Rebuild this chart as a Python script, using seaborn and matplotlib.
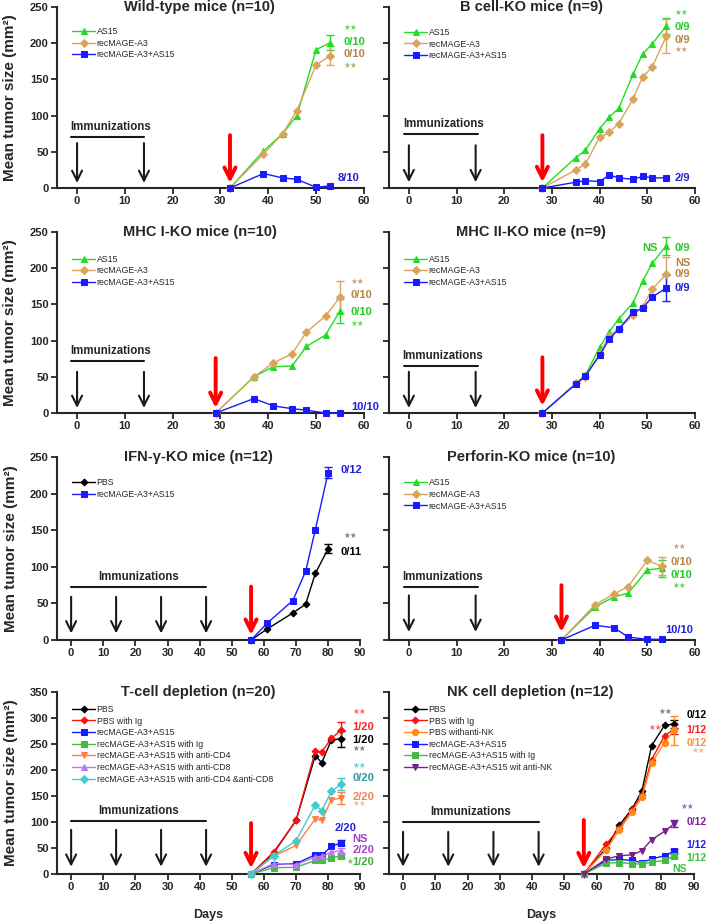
import matplotlib
matplotlib.use("Agg")
import matplotlib.pyplot as plt
import seaborn as sns

# ---- values (mean tumor size, mm2) ----
# Wild-type mice
wt_days = [32, 39, 43, 46, 50, 53]
wt_as15 = [0, 51, 75, 100, 191, 201]
wt_mage = [0, 47, 75, 107, 170, 183]
wt_combo = [0, 20, 14, 12, 1, 3]
wt_sem = [10, 13, 0]
wt_notes = ["**", "0/10", "0/10", "**", "8/10"]
wt_note_y = [220, 202, 185, 168, 14]

# B cell-KO mice
bko_days = [28, 35, 37, 40, 42, 44, 47, 49, 51, 54]
bko_as15 = [0, 42, 52, 82, 98, 110, 157, 185, 199, 224]
bko_mage = [0, 25, 33, 70, 77, 89, 123, 153, 167, 210]
bko_combo = [0, 8, 10, 9, 18, 14, 12, 16, 14, 14]
bko_sem = [11, 24, 0]
bko_notes = ["**", "0/9", "0/9", "**", "2/9"]
bko_note_y = [241, 223, 205, 190, 14]

# MHC I-KO mice
mhc1_days = [29, 37, 41, 45, 48, 52, 55]
mhc1_as15 = [0, 50, 64, 65, 92, 108, 141]
mhc1_mage = [0, 50, 69, 82, 112, 134, 160]
mhc1_combo = [0, 20, 10, 6, 4, 0, 0]
mhc1_sem = [16, 22, 0]
mhc1_notes = ["**", "0/10", "0/10", "**", "10/10"]
mhc1_note_y = [180, 163, 140, 123, 9]

# MHC II-KO mice
mhc2_days = [28, 35, 37, 40, 42, 44, 47, 49, 51, 54]
mhc2_as15 = [0, 41, 52, 91, 112, 130, 152, 182, 207, 231]
mhc2_mage = [0, 41, 50, 82, 107, 116, 135, 146, 171, 192]
mhc2_combo = [0, 40, 51, 80, 102, 116, 139, 145, 160, 173]
mhc2_sem = [12, 24, 18]
mhc2_notes = ["0/9", "NS", "0/9", "0/9"]
mhc2_note_y = [228, 208, 192, 173]

# IFN-gamma-KO mice
ifn_days = [56, 61, 69, 73, 76, 80]
ifn_pbs = [0, 15, 37, 49, 91, 125]
ifn_combo = [0, 23, 54, 94, 151, 229]
ifn_sem = [6, 7]
ifn_notes = ["0/12", "**", "0/11"]
ifn_note_y = [232, 141, 120]

# Perforin-KO mice
perf_days = [32, 39, 43, 46, 50, 53]
perf_as15 = [0, 45, 59, 64, 96, 98]
perf_mage = [0, 48, 63, 73, 109, 101]
perf_combo = [0, 20, 17, 4, 1, 1]
perf_sem = [12, 12, 0]
perf_notes = ["**", "0/10", "0/10", "**", "10/10"]
perf_note_y = [126, 107, 89, 73, 14]

# T-cell depletion
tc_days = [56, 63, 70, 76, 78, 81, 84]
tc_pbs = [0, 40, 103, 228, 214, 258, 260]
tc_pbs_ig = [0, 42, 103, 237, 235, 261, 277]
tc_combo = [0, 18, 20, 37, 36, 53, 60]
tc_combo_ig = [0, 12, 13, 26, 26, 31, 35]
tc_cd4 = [0, 34, 55, 106, 103, 143, 146]
tc_cd8 = [0, 20, 18, 33, 34, 42, 45]
tc_cd48 = [0, 35, 64, 133, 122, 159, 173]
tc_sem = [15, 15, 5, 4, 12, 5, 12]
tc_notes = ["**", "1/20", "1/20", "**", "**", "0/20", "2/20", "**", "NS", "2/20", "1/20"]
tc_note_y = [310, 283, 258, 240, 206, 185, 148, 133, 68, 46, 23]

# NK cell depletion
nk_days = [56, 63, 67, 71, 74, 77, 81, 84]
nk_pbs = [0, 50, 94, 126, 160, 247, 286, 289]
nk_pbs_ig = [0, 58, 88, 124, 153, 220, 266, 279]
nk_pbs_nk = [0, 47, 85, 120, 148, 213, 253, 277]
nk_combo = [0, 26, 28, 26, 22, 29, 35, 44]
nk_combo_ig = [0, 21, 22, 20, 19, 23, 26, 35]
nk_combo_nk = [0, 29, 35, 37, 45, 66, 82, 97]
nk_sem = [8, 10, 28, 4, 4, 7]
nk_notes = ["0/12", "1/12", "0/12", "**", "**", "0/12", "1/12", "1/12"]
nk_note_y = [306, 277, 252, 235, 129, 100, 56, 30]

# colours
GREEN, TAN, BLUE = "#22dd22", "#d9a45c", "#1a1aff"
G_TXT, T_TXT, B_TXT = "#22cc22", "#b58548", "#1f1fdd"


def curve(ax, days, vals, sem, label, color, marker, ms=5):
    sns.lineplot(x=days, y=vals, ax=ax, color=color, marker=marker, markersize=ms,
                 markeredgecolor=color, linewidth=1, label=label, clip_on=False,
                 zorder=3, errorbar=None)
    if sem:
        ax.errorbar(days[-1], vals[-1], yerr=sem, fmt="none", ecolor=color,
                    elinewidth=1, capsize=3, capthick=1, zorder=2, clip_on=False)


def note(ax, x, y, s, color, size=8):
    if "*" in s:
        ax.text(x, y, s.replace("*", "★"), color=color, fontsize=5.5, ha="left",
                va="center", alpha=0.75)
    else:
        ax.text(x, y, s, color=color, fontsize=size, fontweight="bold", ha="left",
                va="center")


def style_axes(ax, title, xmax, ymax, first_col, legend_top):
    ax.set_xlim(-4.2 if xmax == 60 else -4.4, xmax)
    ax.set_ylim(0, ymax)
    ax.set_xticks(range(0, xmax + 1, 10))
    ax.set_yticks(range(0, ymax + 1, 50))
    sns.despine(ax=ax)
    for s in ["left", "bottom"]:
        ax.spines[s].set_linewidth(1.5)
    ax.tick_params(direction="out", length=4, width=1.3, labelsize=8, pad=2)
    for lbl in ax.get_xticklabels() + ax.get_yticklabels():
        lbl.set_fontweight("bold")
    if first_col:
        ax.set_ylabel("Mean tumor size (mm²)", fontsize=11, fontweight="bold")
        ax.yaxis.set_label_coords(-0.13, 0.5)
    else:
        ax.set_yticklabels([])
        ax.set_ylabel("")
    ax.set_xlabel("")
    ax.text(0.465, 1.0, title, transform=ax.transAxes, ha="center", va="center",
            fontsize=10.5, fontweight="bold")
    ax.legend(loc="upper left", bbox_to_anchor=(0.05, legend_top), frameon=False,
              fontsize=6.3, handlelength=2.6, handletextpad=0.2, labelspacing=0.3,
              borderpad=0, borderaxespad=0)


def immunize(ax, shots, bar, text_xy, top, bottom, challenge, red_top, red_bottom):
    ax.text(text_xy[0], text_xy[1], "Immunizations", ha="center", va="center",
            fontsize=8.3, fontweight="bold")
    ax.plot(bar, [text_xy[1] - 14 * ax.get_ylim()[1] / 250] * 2, color="k", lw=1.5)
    for d in shots:
        ax.annotate("", xy=(d, bottom), xytext=(d, top),
                    arrowprops=dict(arrowstyle="->", lw=1.5, color="k",
                                    mutation_scale=18, shrinkA=0, shrinkB=0))
    ax.annotate("", xy=(challenge, red_bottom), xytext=(challenge, red_top),
                arrowprops=dict(arrowstyle="->", lw=2.8, color="#ff0000",
                                mutation_scale=20, shrinkA=0, shrinkB=0))


sns.set_theme(style="ticks")
plt.rcParams["font.family"] = ["Liberation Sans", "DejaVu Sans"]

fig = plt.figure(figsize=(7.07, 9.23), dpi=100)
L, R, W = 0.0806, 0.550, 0.433
bottoms = [0.7963, 0.5525, 0.3066, 0.0531]
H = 0.196

# --- Wild-type ---
ax = fig.add_axes([L, bottoms[0], W + 0.001, H])
curve(ax, wt_days, wt_as15, wt_sem[0], "AS15", GREEN, "^")
curve(ax, wt_days, wt_mage, wt_sem[1], "recMAGE-A3", TAN, "D", 4.5)
curve(ax, wt_days, wt_combo, wt_sem[2], "recMAGE-A3+AS15", BLUE, "s")
style_axes(ax, "Wild-type mice (n=10)", 60, 250, True, 0.89)
immunize(ax, [0, 14], [-1.3, 14.1], (7, 84), 62, 7, 32, 73, 7)
for s, y, c in zip(wt_notes, wt_note_y, [G_TXT, G_TXT, T_TXT, T_TXT, B_TXT]):
    note(ax, 55.7 if s != "8/10" else 54.6, y, s, c)

# --- B cell-KO ---
ax = fig.add_axes([R, bottoms[0], W, H])
curve(ax, bko_days, bko_as15, bko_sem[0], "AS15", GREEN, "^")
curve(ax, bko_days, bko_mage, bko_sem[1], "recMAGE-A3", TAN, "D", 4.5)
curve(ax, bko_days, bko_combo, bko_sem[2], "recMAGE-A3+AS15", BLUE, "s")
style_axes(ax, "B cell-KO mice (n=9)", 60, 250, False, 0.885)
immunize(ax, [0, 14], [-1.0, 14.4], (7.3, 88), 59, 8, 28, 73, 8)
for s, y, c in zip(bko_notes, bko_note_y, [G_TXT, G_TXT, T_TXT, T_TXT, B_TXT]):
    note(ax, 55.8, y, s, c)

# --- MHC I-KO ---
ax = fig.add_axes([L, bottoms[1], W + 0.001, H])
curve(ax, mhc1_days, mhc1_as15, mhc1_sem[0], "AS15", GREEN, "^")
curve(ax, mhc1_days, mhc1_mage, mhc1_sem[1], "recMAGE-A3", TAN, "D", 4.5)
curve(ax, mhc1_days, mhc1_combo, mhc1_sem[2], "recMAGE-A3+AS15", BLUE, "s")
style_axes(ax, "MHC I-KO mice (n=10)", 60, 250, True, 0.875)
immunize(ax, [0, 14], [-1.3, 14.1], (7, 86), 57, 7, 29, 76, 7)
for s, y, c in zip(mhc1_notes, mhc1_note_y, [T_TXT, T_TXT, G_TXT, G_TXT, B_TXT]):
    note(ax, 57.3, y, s, c)

# --- MHC II-KO ---
ax = fig.add_axes([R, bottoms[1], W, H])
curve(ax, mhc2_days, mhc2_as15, mhc2_sem[0], "AS15", GREEN, "^")
curve(ax, mhc2_days, mhc2_mage, mhc2_sem[1], "recMAGE-A3", TAN, "D", 4.5)
curve(ax, mhc2_days, mhc2_combo, mhc2_sem[2], "recMAGE-A3+AS15", BLUE, "s")
style_axes(ax, "MHC II-KO mice (n=9)", 60, 250, False, 0.875)
immunize(ax, [0, 14], [-1.0, 14.4], (7, 79), 57, 7, 28, 77, 10)
note(ax, 49, mhc2_note_y[0], "NS", G_TXT)
for s, y, c in zip(mhc2_notes, mhc2_note_y, [G_TXT, T_TXT, T_TXT, B_TXT]):
    note(ax, 55.8, y, s, c)

# --- IFN-gamma-KO ---
ax = fig.add_axes([L, bottoms[2], W - 0.004, H + 0.002])
curve(ax, ifn_days, ifn_pbs, ifn_sem[0], "PBS", "black", "D", 3.5)
curve(ax, ifn_days, ifn_combo, ifn_sem[1], "recMAGE-A3+AS15", BLUE, "s")
style_axes(ax, "IFN-γ-KO mice (n=12)", 90, 250, True, 0.885)
immunize(ax, [0, 14, 28, 42], [0, 42], (21, 86), 59, 9, 56, 73, 7)
for s, y, c, x in zip(ifn_notes, ifn_note_y, [B_TXT, "#555555", "black"], [83.8, 84.8, 83.8]):
    note(ax, x, y, s, c)

# --- Perforin-KO ---
ax = fig.add_axes([R, bottoms[2], W, H + 0.002])
curve(ax, perf_days, perf_as15, perf_sem[0], "AS15", GREEN, "^")
curve(ax, perf_days, perf_mage, perf_sem[1], "recMAGE-A3", TAN, "D", 4.5)
curve(ax, perf_days, perf_combo, perf_sem[2], "recMAGE-A3+AS15", BLUE, "s")
style_axes(ax, "Perforin-KO mice (n=10)", 60, 250, False, 0.885)
immunize(ax, [0, 14], [-1.0, 14.4], (7, 86), 61, 11, 32, 75, 11)
for s, y, c, x in zip(perf_notes, perf_note_y, [T_TXT, T_TXT, G_TXT, G_TXT, B_TXT],
                      [55.3, 54.8, 54.8, 55.3, 53.7]):
    note(ax, x, y, s, c)

# --- T-cell depletion ---
ax = fig.add_axes([L, bottoms[3], W - 0.004, H + 0.001])
curve(ax, tc_days, tc_pbs, tc_sem[0], "PBS", "black", "D", 3.5)
curve(ax, tc_days, tc_pbs_ig, tc_sem[1], "PBS with Ig", "#ff1010", "D", 3.5)
curve(ax, tc_days, tc_combo, tc_sem[2], "recMAGE-A3+AS15", BLUE, "s")
curve(ax, tc_days, tc_combo_ig, tc_sem[3], "recMAGE-A3+AS15 with Ig", "#44bb44", "s")
curve(ax, tc_days, tc_cd4, tc_sem[4], "recMAGE-A3+AS15 with anti-CD4", "#ff8040", "v")
curve(ax, tc_days, tc_cd8, tc_sem[5], "recMAGE-A3+AS15 with anti-CD8", "#bb77ee", "^")
curve(ax, tc_days, tc_cd48, tc_sem[6], "recMAGE-A3+AS15 with anti-CD4 &anti-CD8", "#44cccc", "D", 4.5)
style_axes(ax, "T-cell depletion (n=20)", 90, 350, True, 0.93)
immunize(ax, [0, 14, 28, 42], [0, 42], (21, 122), 85, 14, 56, 98, 11)
tc_cols = ["#ff3030", "#ff2020", "black", "#555555", "#44bbbb", "#2a9d9d",
           "#f5824d", "#f5a080", "#a040d0", "#a040d0", "#40b040"]
for s, y, c in zip(tc_notes, tc_note_y, tc_cols):
    note(ax, 87.5, y, s, c)
note(ax, 82.0, 89, "2/20", B_TXT)
note(ax, 85.6, 23, "*", "#40b040")
ax.set_xlabel("Days", fontsize=9, fontweight="bold")
ax.xaxis.set_label_coords(0.5, -0.19)

# --- NK cell depletion ---
ax = fig.add_axes([R, bottoms[3], W - 0.002, H + 0.001])
curve(ax, nk_days, nk_pbs, nk_sem[0], "PBS", "black", "D", 3.5)
curve(ax, nk_days, nk_pbs_ig, nk_sem[1], "PBS with Ig", "#ff1010", "D", 3.5)
curve(ax, nk_days, nk_pbs_nk, nk_sem[2], "PBS withanti-NK", "#ff8c1a", "o", 4.5)
curve(ax, nk_days, nk_combo, nk_sem[3], "recMAGE-A3+AS15", BLUE, "s")
curve(ax, nk_days, nk_combo_ig, nk_sem[4], "recMAGE-A3+AS15 with Ig", "#44bb44", "s")
curve(ax, nk_days, nk_combo_nk, nk_sem[5], "recMAGE-A3+AS15 wit anti-NK", "#7a1e8c", "v")
style_axes(ax, "NK cell depletion (n=12)", 90, 350, False, 0.93)
immunize(ax, [0, 14, 28, 42], [0, 42], (21, 120), 81, 14, 56, 104, 11)
nk_cols = ["black", "#ff2020", "#ff9040", "#ffa060", "#9030b0", "#8020a0", "#2020ff", "#40c040"]
nk_x = [87.8, 87.8, 87.8, 89.5, 86, 87.8, 87.8, 87.8]
for s, y, c, x in zip(nk_notes, nk_note_y, nk_cols, nk_x):
    note(ax, x, y, s, c, size=7.5)
note(ax, 79, 310, "**", "#555555")
note(ax, 76, 281, "**", "#ff3030")
note(ax, 83.5, 9, "NS", "#40c040", size=7.5)
ax.set_xlabel("Days", fontsize=9, fontweight="bold")
ax.xaxis.set_label_coords(0.5, -0.19)

fig.savefig("out.png", dpi=100)
